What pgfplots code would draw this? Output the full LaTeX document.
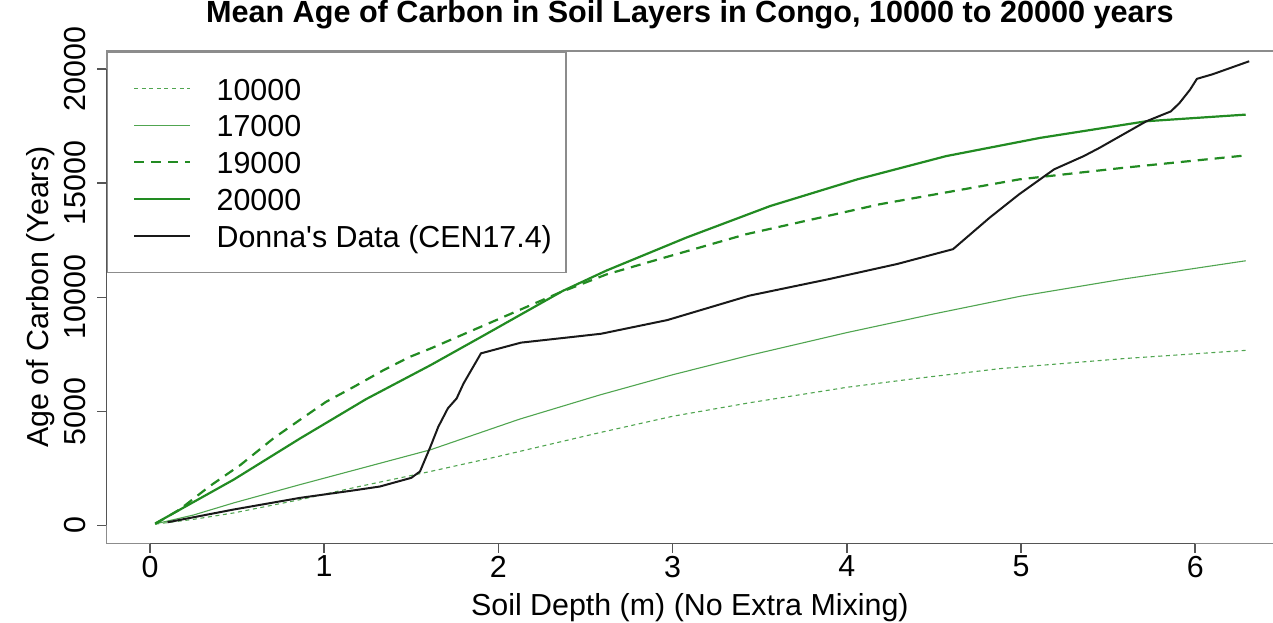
\documentclass[border=0pt]{standalone}
\usepackage{fontspec}
\setmainfont{Liberation Sans}
\usepackage{pgfplots}
\pgfplotsset{compat=1.18}

\definecolor{fgreen}{RGB}{34,139,34}
\definecolor{fgreenlight}{RGB}{80,165,80}
\definecolor{boxgray}{RGB}{140,140,140}
\definecolor{axisgray}{RGB}{85,85,85}

\newcommand{\lblfont}{\fontsize{15.2}{18}\selectfont}

\begin{document}
\begin{tikzpicture}
\begin{axis}[
  name=ax,
  scale only axis,
  width=583.15pt, height=246.25pt,
  xmin=-0.2486, xmax=6.4466,
  ymin=-800, ymax=20800,
  clip=false,
  axis line style={draw=none},
  xtick={0,1,2,3,4,5,6},
  ytick={0,5000,10000,15000,20000},
  xtick pos=left, ytick pos=left,
  tick align=outside,
  major tick length=4.6pt,
  tick style={axisgray, line width=0.75pt},
  scaled y ticks=false,
  /pgf/number format/assume math mode=true,
  /pgf/number format/1000 sep={},
  ticklabel style={font=\lblfont},
  xticklabel style={anchor=north, inner xsep=0pt, inner ysep=1.4pt},
  yticklabel style={rotate=90, anchor=south, inner xsep=0pt, inner ysep=5.75pt},
  title={Mean Age of Carbon in Soil Layers in Congo, 10000 to 20000 years},
  title style={at={(axis description cs:0.5,1)}, anchor=base, yshift=8.35pt,
    font=\bfseries\fontsize{15.3}{18}\selectfont},
  xlabel={Soil Depth (m) (No Extra Mixing)},
  xlabel style={at={(axis description cs:0.5,0)}, anchor=base, yshift=-35.75pt, font=\lblfont},
  ylabel={Age of Carbon (Years)},
  ylabel style={at={([xshift=-28.85pt]axis description cs:0,0.5)}, rotate=0, anchor=base, font=\lblfont},
  legend cell align=left,
  legend style={at={(axis description cs:0,1)}, anchor=north west,
    draw=boxgray, line width=0.75pt, fill=white,
    inner xsep=7pt, inner ysep=9.175pt, row sep=0pt, column sep=0pt,
    font=\lblfont,
    nodes={inner sep=0pt, text height=14.975pt, text depth=3.425pt}},
  legend image code/.code={%
    \path[draw=none] (0pt,0pt) -- (47.6pt,0pt);
    \draw[#1] (6.3pt,0pt) -- (34.5pt,0pt);},
]

% frame: top, left and bottom edges of the plotting region
\draw[boxgray, line width=0.75pt]
  (rel axis cs:1,1) -- (rel axis cs:0,1) -- (rel axis cs:0,0) -- (rel axis cs:1,0);
% axis lines spanning the tick range
\draw[axisgray, line width=0.75pt] (axis cs:0,-800) -- (axis cs:6,-800);
\draw[axisgray, line width=0.75pt] (axis cs:-0.2486,0) -- (axis cs:-0.2486,20000);

% turnover time 10000 years
\addplot[fgreenlight, line width=0.55pt, dash pattern=on 2pt off 1.8pt] coordinates {
  (0.03,50) (0.25,260) (0.48,540) (0.86,1120) (1.20,1700) (1.61,2360)
  (2.00,3020) (2.58,4060) (3.00,4780) (3.44,5370) (4.00,6050)
  (4.40,6440) (4.88,6870) (5.59,7310) (6.29,7670)
};
% turnover time 17000 years
\addplot[fgreenlight, line width=0.55pt] coordinates {
  (0.03,60) (0.25,450) (0.48,980) (0.86,1780) (1.61,3310) (2.12,4650)
  (2.58,5710) (3.00,6600) (3.44,7450) (4.00,8450) (4.50,9270)
  (5.00,10050) (5.59,10800) (6.29,11600)
};
% turnover time 19000 years
\addplot[fgreen, line width=1.1pt, dash pattern=on 5pt off 3.5pt] coordinates {
  (0.03,60) (0.17,690) (0.34,1700) (0.52,2650) (0.71,3820) (0.86,4620)
  (1.01,5410) (1.17,6070) (1.34,6800) (1.49,7380) (1.61,7750)
  (1.94,8840) (2.35,10200) (2.62,11000) (2.89,11600) (3.42,12760)
  (4.19,14080) (4.99,15170) (5.59,15680) (6.29,16220)
};
% turnover time 20000 years
\addplot[fgreen, line width=1.1pt] coordinates {
  (0.03,80) (0.48,2000) (0.86,3800) (1.24,5530) (1.61,7020) (1.91,8300)
  (2.37,10280) (2.62,11170) (3.08,12620) (3.56,14000) (4.06,15170)
  (4.57,16190) (5.11,16990) (5.72,17720) (6.29,18010)
};
% measured profile
\addplot[black!90, line width=1pt] coordinates {
  (0.10,130) (0.48,690) (0.86,1200) (1.17,1530) (1.32,1700) (1.50,2080)
  (1.55,2360) (1.61,3450) (1.655,4320) (1.71,5130) (1.76,5560) (1.80,6220)
  (1.90,7540) (2.13,8010) (2.45,8280) (2.59,8400) (2.97,9000)
  (3.44,10070) (3.90,10800) (4.29,11460) (4.61,12110) (4.82,13490)
  (4.99,14520) (5.19,15610) (5.36,16190) (5.45,16550) (5.72,17720)
  (5.86,18150) (5.91,18520) (5.97,19100) (6.01,19580) (6.10,19780)
  (6.31,20350)
};
\legend{10000, 17000, 19000, 20000, Donna\textquotesingle s Data (CEN17.4)}
\end{axis}
\pgfresetboundingbox
\path[use as bounding box] ([xshift=-53.35pt,yshift=-39.75pt]ax.south west)
  rectangle ([yshift=25.5pt]ax.north east);
\end{tikzpicture}
\end{document}
